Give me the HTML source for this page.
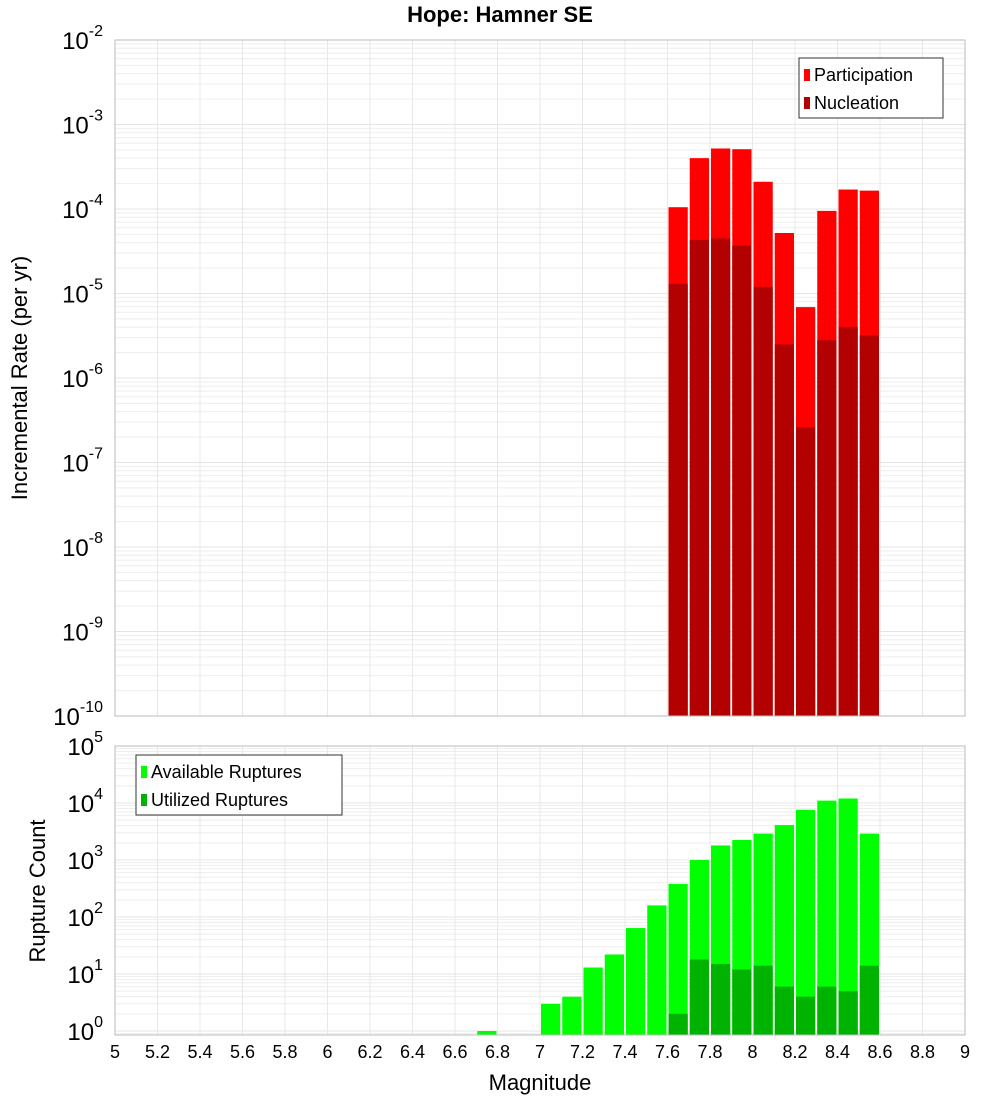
<!DOCTYPE html>
<html><head><meta charset="utf-8"><style>body{margin:0;background:#fff}svg{display:block;font-family:"Liberation Sans","DejaVu Sans",sans-serif}</style></head>
<body>
<svg id="c" width="1000" height="1100"></svg>
<script>
const binCenters=[7.65,7.75,7.85,7.95,8.05,8.15,8.25,8.35,8.45,8.55];
const participation=[1.05e-4,4e-4,5.2e-4,5.1e-4,2.1e-4,5.2e-5,6.9e-6,9.5e-5,1.7e-4,1.65e-4];
const nucleation=[1.3e-5,4.3e-5,4.5e-5,3.7e-5,1.2e-5,2.5e-6,2.6e-7,2.8e-6,4e-6,3.2e-6];
const countCenters=[6.75,7.05,7.15,7.25,7.35,7.45,7.55,7.65,7.75,7.85,7.95,8.05,8.15,8.25,8.35,8.45,8.55];
const available=[1,3,4,13,22,64,160,380,1000,1800,2250,2900,4100,7600,11000,12000,2900];
const utilizedCenters=[7.65,7.75,7.85,7.95,8.05,8.15,8.25,8.35,8.45,8.55];
const utilized=[2,18,15,12,14,6,4,6,5,14];
const xTicks=[5,5.2,5.4,5.6,5.8,6,6.2,6.4,6.6,6.8,7,7.2,7.4,7.6,7.8,8,8.2,8.4,8.6,8.8,9];
const topExps=[-2,-3,-4,-5,-6,-7,-8,-9,-10];
const botExps=[5,4,3,2,1,0];

const svg=document.getElementById('c');const NS='http://www.w3.org/2000/svg';
function mk(t,a,p){const e=document.createElementNS(NS,t);for(const k in a)e.setAttribute(k,a[k]);(p||svg).appendChild(e);return e;}
const L=115,R=965;
const x=m=>L+(m-5)/4*(R-L);
const T1=40,B1=716,yTop=v=>T1+(-2-Math.log10(v))/8*(B1-T1);
const T2=746,B2=1035,dec2=57,yBot=v=>T2+(5-Math.log10(v))*dec2;
const bw=(R-L)/40;

function grid(T,B,yf,emin,emax){
  const g=mk('g',{});
  for(let e=emin;e<emax;e++)for(let k=1;k<10;k++){const yy=yf(k*Math.pow(10,e));if(yy<T||yy>B)continue;mk('line',{x1:L,x2:R,y1:yy,y2:yy,stroke:k==1?'#e4e4e4':'#eeeeee','stroke-width':1},g);}
  xTicks.forEach(t=>mk('line',{x1:x(t),x2:x(t),y1:T,y2:B,stroke:'#e8e8e8'},g));
}
mk('rect',{x:L,y:T1,width:R-L,height:B1-T1,fill:'#fff'});
grid(T1,B1,yTop,-10,-2);
mk('rect',{x:L,y:T2,width:R-L,height:B2-T2,fill:'#fff'});
grid(T2,B2,yBot,-1,5);

function bars(c,v,yf,B,col,name){binsDraw(c,v,yf,B,col,name);}
function binsDraw(c,v,yf,B,col,name){c.forEach((m,i)=>{const yy=Math.max(yf(v[i]),0);const r=mk('rect',{x:x(m)-bw/2+1,y:yy,width:bw-2,height:B-yy,fill:col});});}
binsDraw(binCenters,participation,yTop,B1,'#ff0000','participation-bar');
binsDraw(binCenters,nucleation,yTop,B1,'#b30000','nucleation-bar');
binsDraw(countCenters,available,yBot,B2,'#00ff00','available-bar');
binsDraw(utilizedCenters,utilized,yBot,B2,'#00b300','utilized-bar');

mk('rect',{x:L,y:T1,width:R-L,height:B1-T1,fill:'none',stroke:'#bbb'});
mk('rect',{x:L,y:T2,width:R-L,height:B2-T2,fill:'none',stroke:'#bbb'});

function txt(s,a,name){const e=mk('text',a);e.textContent=s;return e;}
function expLabel(e,yy,name){const t=mk('text',{x:103,y:yy+9,'text-anchor':'end','font-size':24,fill:'#000'});
  const a=document.createElementNS(NS,'tspan');a.textContent='10';t.appendChild(a);
  const b=document.createElementNS(NS,'tspan');b.textContent=String(e);b.setAttribute('dy','-13');b.setAttribute('font-size','16');t.appendChild(b);}
topExps.forEach(e=>expLabel(e,yTop(Math.pow(10,e)),'y-tick-label'));
botExps.forEach(e=>expLabel(e,yBot(Math.pow(10,e)),'y2-tick-label'));
xTicks.forEach(t=>txt(String(t),{x:x(t),y:1058,'text-anchor':'middle','font-size':18},'x-tick-label'));
txt('Hope: Hamner SE',{x:500,y:22,'text-anchor':'middle','font-size':22,'font-weight':'bold'},'chart-title');
txt('Magnitude',{x:540,y:1090,'text-anchor':'middle','font-size':22},'x-axis-title');
txt('Incremental Rate (per yr)',{x:0,y:0,transform:'translate(27,378) rotate(-90)','text-anchor':'middle','font-size':22},'y-axis-title');
txt('Rupture Count',{x:0,y:0,transform:'translate(45,891) rotate(-90)','text-anchor':'middle','font-size':22},'y2-axis-title');

function legend(x0,y0,w,items,name){const g=mk('g',{});
  mk('rect',{x:x0,y:y0,width:w,height:60,fill:'#fff',stroke:'#333'},g);
  items.forEach((it,i)=>{mk('rect',{x:x0+5,y:y0+11+i*28,width:6,height:12,fill:it[1]},g);const t=mk('text',{x:x0+15,y:y0+23+i*28,'font-size':18},g);t.textContent=it[0];});}
legend(799,58,144,[['Participation','#ff0000'],['Nucleation','#b30000']],'legend-top');
legend(136,755,206,[['Available Ruptures','#00ff00'],['Utilized Ruptures','#00b300']],'legend-bottom');
</script>
</body></html>
